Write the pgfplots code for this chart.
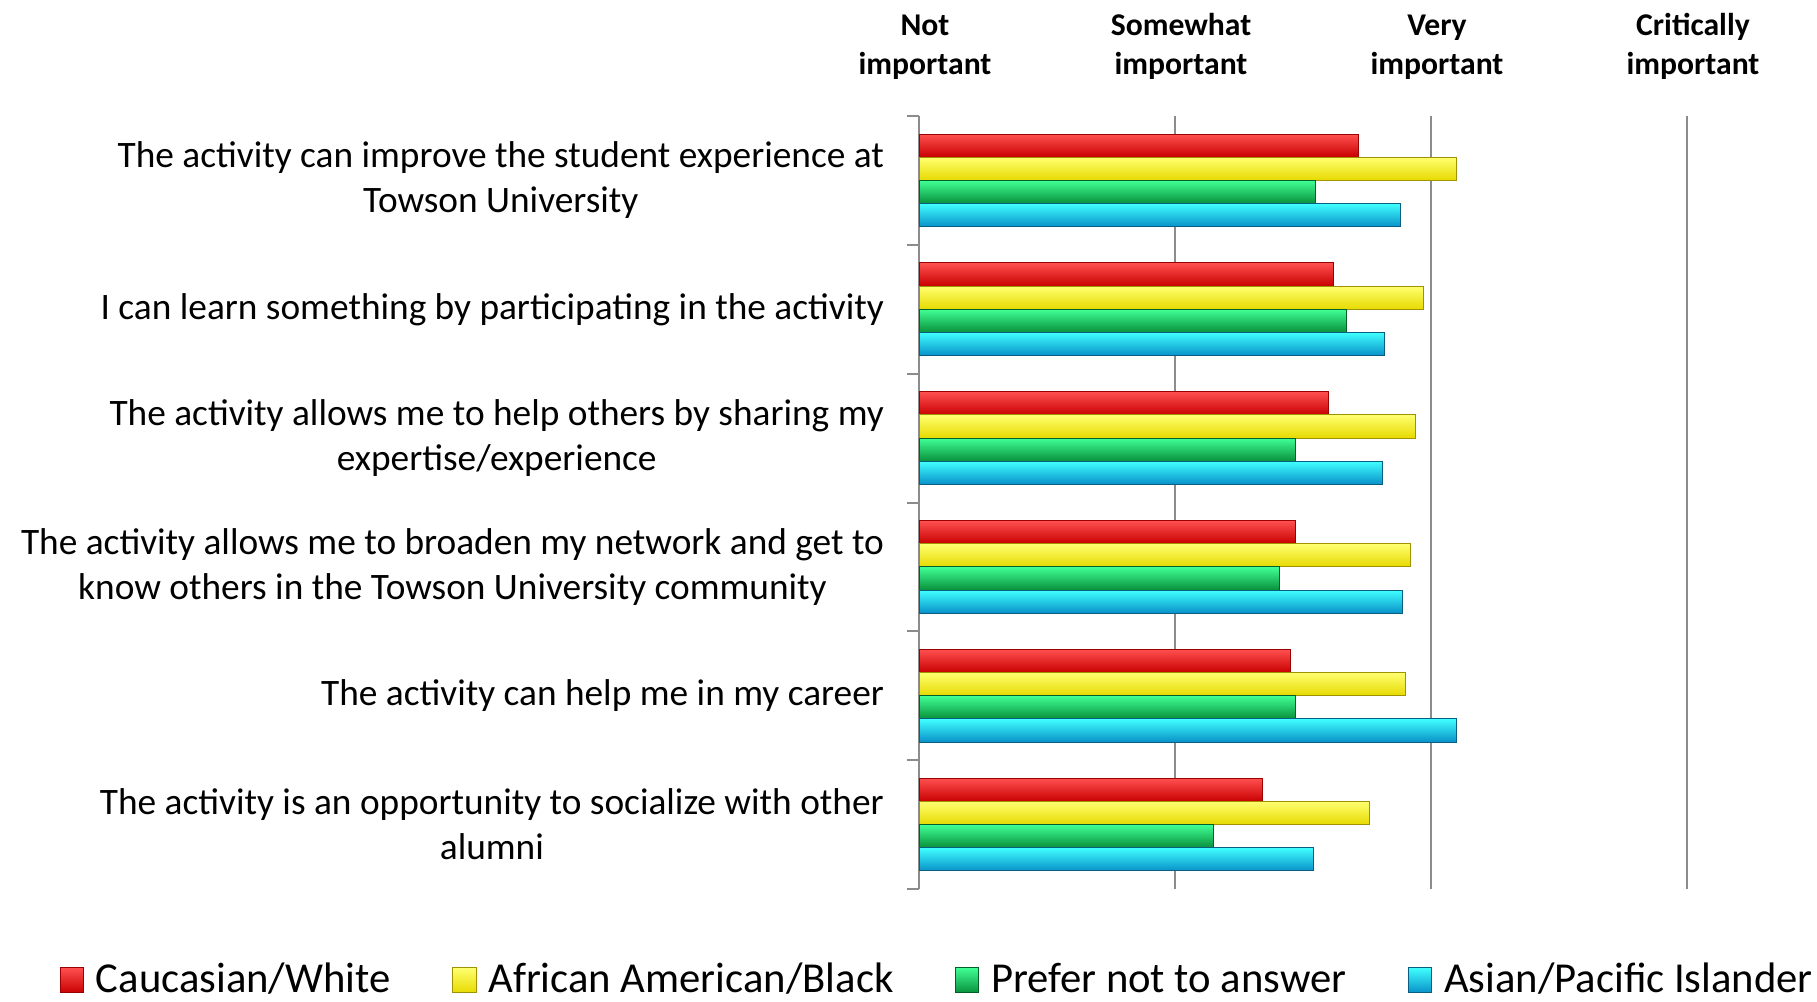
\documentclass[border=0pt]{standalone}
\usepackage{pgfplots}
\pgfplotsset{compat=1.18}
\usepackage{fontspec}
\setmainfont{Carlito}

\definecolor{redT}{HTML}{FF5050}\definecolor{redM}{HTML}{E80000}\definecolor{redB}{HTML}{C80000}\definecolor{redD}{HTML}{9A0000}
\definecolor{yelT}{HTML}{FFFF70}\definecolor{yelM}{HTML}{FFFF00}\definecolor{yelB}{HTML}{E6DA00}\definecolor{yelD}{HTML}{A09200}
\definecolor{grnT}{HTML}{40FF95}\definecolor{grnM}{HTML}{10A845}\definecolor{grnB}{HTML}{08903A}\definecolor{grnD}{HTML}{00602A}
\definecolor{bluT}{HTML}{40FFFF}\definecolor{bluM}{HTML}{10A8E4}\definecolor{bluB}{HTML}{0890C8}\definecolor{bluD}{HTML}{0A5E82}
\definecolor{gridgray}{HTML}{8C8C8C}

% one path per bar, so that each bar gets its own shading
\pgfplotsset{
  redbar/.style={bar shift=-0.27, top color=redT, middle color=redM, bottom color=redB, draw=redD, line width=0.3pt},
  yelbar/.style={bar shift=-0.09, top color=yelT, middle color=yelM, bottom color=yelB, draw=yelD, line width=0.3pt},
  grnbar/.style={bar shift=0.09, top color=grnT, middle color=grnM, bottom color=grnB, draw=grnD, line width=0.3pt},
  blubar/.style={bar shift=0.27, top color=bluT, middle color=bluM, bottom color=bluB, draw=bluD, line width=0.3pt},
}

\begin{document}
\begin{tikzpicture}
\useasboundingbox (0,0) rectangle (545.1pt,300.3pt);
\begin{axis}[
  at={(275.7pt,33.6pt)}, anchor=south west,
  scale only axis, width=230.4pt, height=231.9pt,
  xbar, bar width=0.18,
  xmin=1, xmax=4, ymin=0.5, ymax=6.5,
  y dir=reverse,
  axis x line*=top, axis y line*=left,
  x axis line style={draw=none},
  y axis line style={gridgray, line width=0.6pt},
  xtick={1,2,3,4},
  xticklabels={Not\\important, Somewhat\\important, Very\\important, Critically\\important},
  xticklabel style={align=center, font=\bfseries\fontsize{9.5}{11.5}\selectfont, yshift=7.5pt, xshift=1.8pt},
  x tick style={draw=none},
  xmajorgrids, major grid style={gridgray, line width=0.6pt},
  ytick={1,2,3,4,5,6},
  yticklabels={
    The activity can improve the student experience at\\Towson University,
    I can learn something by participating in the activity,
    The activity allows me to help others by sharing my\\expertise/experience,
    The activity allows me to broaden my network and get to\\know others in the Towson University community,
    The activity can help me in my career,
    The activity is an opportunity to socialize with other\\alumni},
  yticklabel style={align=center, font=\fontsize{11.2}{13.5}\selectfont, xshift=-7pt},
  minor ytick={0.5,1.5,2.5,3.5,4.5,5.5,6.5},
  major tick length=0pt, minor tick length=3.5pt, tick align=outside,
  y tick style={gridgray, line width=0.6pt},
  legend columns=4,
  legend style={draw=none, at={(0.027,-0.118)}, anchor=center,
    font=\fontsize{12.8}{14}\selectfont,
    /tikz/every even column/.append style={column sep=16.5pt}},
  legend image code/.code={\draw[#1] (0pt,-3.8pt) rectangle (7pt,3.8pt); \path (8.5pt,0pt);},
]
% Caucasian/White
\addplot[redbar] coordinates {(2.715,1)};
\addplot[redbar, forget plot] coordinates {(2.62,2)};
\addplot[redbar, forget plot] coordinates {(2.60,3)};
\addplot[redbar, forget plot] coordinates {(2.47,4)};
\addplot[redbar, forget plot] coordinates {(2.45,5)};
\addplot[redbar, forget plot] coordinates {(2.34,6)};
% African American/Black
\addplot[yelbar] coordinates {(3.10,1)};
\addplot[yelbar, forget plot] coordinates {(2.97,2)};
\addplot[yelbar, forget plot] coordinates {(2.94,3)};
\addplot[yelbar, forget plot] coordinates {(2.92,4)};
\addplot[yelbar, forget plot] coordinates {(2.90,5)};
\addplot[yelbar, forget plot] coordinates {(2.76,6)};
% Prefer not to answer
\addplot[grnbar] coordinates {(2.55,1)};
\addplot[grnbar, forget plot] coordinates {(2.67,2)};
\addplot[grnbar, forget plot] coordinates {(2.47,3)};
\addplot[grnbar, forget plot] coordinates {(2.41,4)};
\addplot[grnbar, forget plot] coordinates {(2.47,5)};
\addplot[grnbar, forget plot] coordinates {(2.15,6)};
% Asian/Pacific Islander
\addplot[blubar] coordinates {(2.88,1)};
\addplot[blubar, forget plot] coordinates {(2.82,2)};
\addplot[blubar, forget plot] coordinates {(2.81,3)};
\addplot[blubar, forget plot] coordinates {(2.89,4)};
\addplot[blubar, forget plot] coordinates {(3.10,5)};
\addplot[blubar, forget plot] coordinates {(2.54,6)};
\legend{Caucasian/White, African American/Black, Prefer not to answer, Asian/Pacific Islander}
\end{axis}
\end{tikzpicture}
\end{document}
